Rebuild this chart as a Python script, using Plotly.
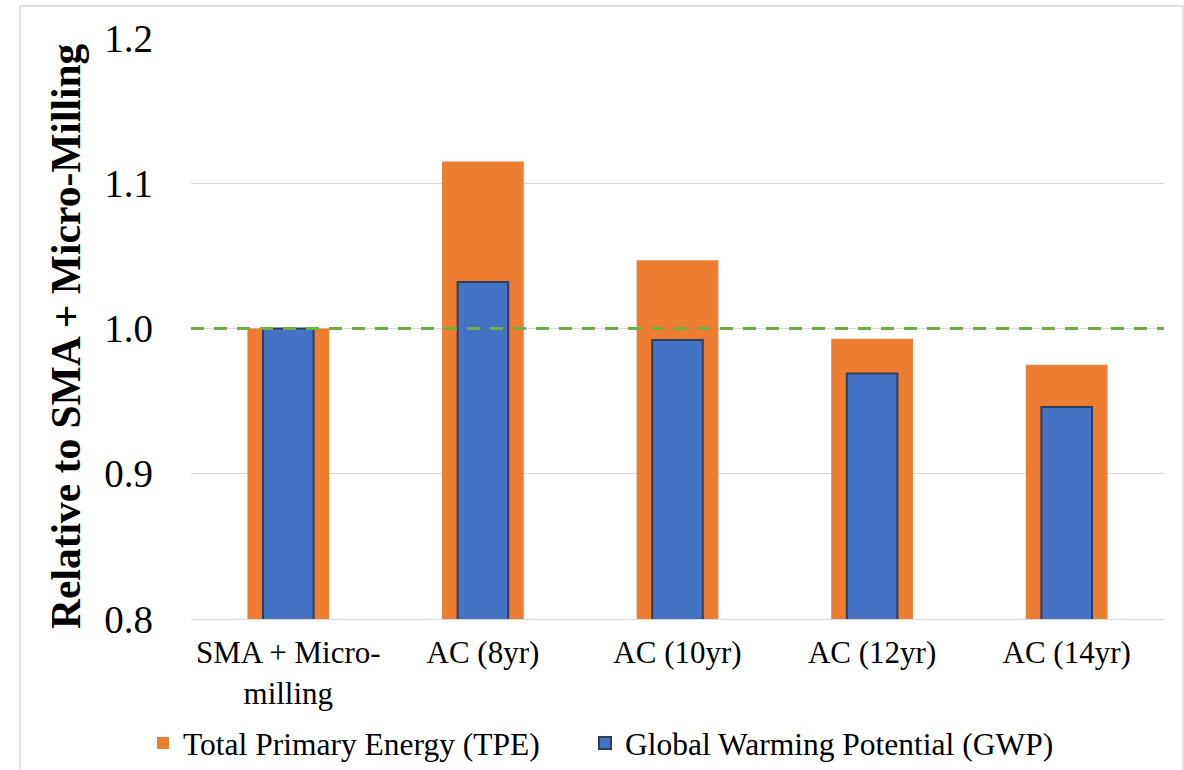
import plotly.graph_objects as go

categories = ["SMA + Micro-<br>milling", "AC (8yr)", "AC (10yr)", "AC (12yr)", "AC (14yr)"]
tpe = [1.000, 1.115, 1.047, 0.993, 0.975]
gwp = [1.000, 1.032, 0.992, 0.969, 0.946]
tpe_name = "Total Primary Energy (TPE)"
gwp_name = "Global Warming Potential (GWP)"
y_ticks = [0.8, 0.9, 1.0, 1.1, 1.2]
y_tick_text = ["0.8", "0.9", "1.0", "1.1", "1.2"]
y_title = "Relative to SMA + Micro-Milling"
reference_level = 1.0

W, H = 1184, 770
ML, MR, MT, MB = 191, 20, 38, 151
PW, PH = W - ML - MR, H - MT - MB

def px_x(p):
    return (p - ML) / PW

def px_y(p):
    return (H - MB - p) / PH

serif = "Liberation Serif, Times New Roman, serif"

fig = go.Figure()
fig.add_trace(go.Bar(
    x=categories, y=tpe, name=tpe_name, width=0.42,
    marker=dict(color="#ED7D31", line=dict(width=0)),
    legend="legend",
))
fig.add_trace(go.Bar(
    x=categories, y=gwp, name=gwp_name, width=0.26,
    marker=dict(color="#4472C4", line=dict(color="#2E3F5E", width=2)),
    legend="legend2",
))

fig.add_shape(type="line", xref="paper", x0=0, x1=1, yref="y",
              y0=reference_level, y1=reference_level,
              line=dict(color="#70AD47", width=3, dash="13px,10px"), layer="above")

fig.add_shape(type="rect", xref="paper", yref="paper",
              x0=px_x(20), x1=px_x(1183), y0=px_y(775), y1=px_y(6),
              line=dict(color="#D9D9D9", width=1.5), fillcolor="rgba(0,0,0,0)", layer="below")

fig.add_annotation(
    text="<b>" + y_title + "</b>", textangle=-90,
    xref="paper", yref="paper", x=px_x(66), y=px_y(336),
    xanchor="center", yanchor="middle", showarrow=False,
    font=dict(family=serif, size=41.5, color="#000000"),
)

legend_common = dict(
    orientation="h", xanchor="left", yanchor="middle", y=px_y(743),
    font=dict(family=serif, size=31.5, color="#000000"),
    itemwidth=30, bgcolor="rgba(0,0,0,0)",
)

fig.update_layout(
    width=W, height=H,
    margin=dict(l=ML, r=MR, t=MT, b=MB, autoexpand=False),
    barmode="overlay",
    plot_bgcolor="white", paper_bgcolor="white",
    font=dict(family=serif, color="#000000"),
    showlegend=True,
    legend=dict(x=px_x(143), **legend_common),
    legend2=dict(x=px_x(585), **legend_common),
    xaxis=dict(
        type="category", range=[-0.5, 4.5],
        showgrid=False, showline=True, linecolor="#D9D9D9", linewidth=1,
        ticks="", tickfont=dict(family=serif, size=31, color="#000000"),
        ticklabelstandoff=6,
    ),
    yaxis=dict(
        range=[0.8, 1.2], tickvals=y_ticks, ticktext=y_tick_text,
        showgrid=True, gridcolor="#D9D9D9", gridwidth=1,
        zeroline=False, showline=False, ticks="",
        tickfont=dict(family=serif, size=39, color="#000000"),
        ticklabelstandoff=37,
    ),
)

fig.write_html("out.html", config={"displayModeBar": False},
               post_script="document.body.style.margin='0';")
